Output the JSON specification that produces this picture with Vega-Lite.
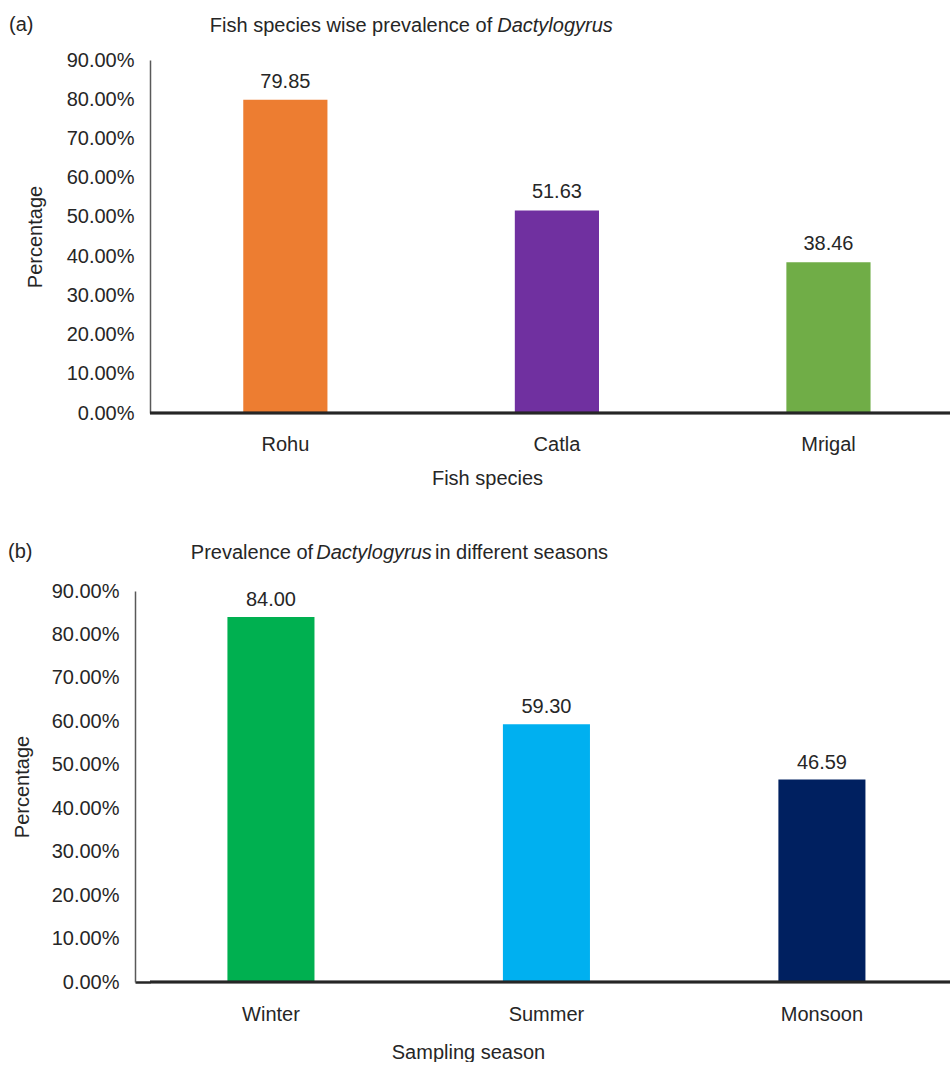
{
  "$schema": "https://vega.github.io/schema/vega-lite/v6.json",
  "padding": {"left": 8, "top": 15, "right": 0, "bottom": 0},
  "background": "white",
  "spacing": 54,
  "resolve": {"scale": {"color": "independent"}},
  "vconcat": [
    {
      "width": 800,
      "height": 353,
      "data": {"values": [
        {"species": "Rohu", "value": 79.85},
        {"species": "Catla", "value": 51.63},
        {"species": "Mrigal", "value": 38.46}
      ]},
      "title": {"text": "(a)", "anchor": "start", "frame": "group", "dx": -141, "dy": 36, "offset": 0, "baseline": "alphabetic", "fontSize": 20, "fontWeight": "normal", "color": "#262626", "font": "Liberation Sans"},
      "layer": [
        {
          "mark": {"type": "bar"},
          "encoding": {
            "x": {"field": "species", "type": "nominal", "sort": null,
              "scale": {"paddingInner": 0.69, "paddingOuter": 0.318, "align": 0.54},
              "axis": {"title": "Fish species", "labelAngle": 0, "labelPadding": 21, "domain": false, "ticks": false,
                "titleX": 337, "titleY": 65, "titleAlign": "center", "titleBaseline": "middle"}},
            "y": {"field": "value", "type": "quantitative",
              "scale": {"domain": [0, 90], "nice": false},
              "axis": {"title": "Percentage", "values": [0, 10, 20, 30, 40, 50, 60, 70, 80, 90],
                "labelExpr": "format(datum.value, '.2f') + '%'", "labelPadding": 16, "ticks": false,
                "domain": true, "domainColor": "#595959", "domainWidth": 1.5,
                "titleX": -115, "titleY": 176.5, "titleAngle": 270, "titleAlign": "center", "titleBaseline": "middle"}},
            "color": {"field": "species", "type": "nominal",
              "scale": {"domain": ["Rohu", "Catla", "Mrigal"], "range": ["#ED7D31", "#7030A0", "#70AD47"]},
              "legend": null}
          }
        },
        {
          "mark": {"type": "rule", "color": "#262626", "strokeWidth": 2.5},
          "encoding": {"y": {"datum": 0, "axis": null}}
        },
        {
          "mark": {"type": "text", "baseline": "alphabetic", "dy": -12, "fontSize": 20, "color": "#262626"},
          "encoding": {
            "x": {"field": "species", "type": "nominal", "sort": null,
              "axis": {"orient": "top", "title": "Fish species wise prevalence of", "labels": false, "ticks": false, "domain": false,
                "titleX": 200.5, "titleY": -29, "titleAlign": "center", "titleBaseline": "alphabetic", "titleAngle": 0}},
            "y": {"field": "value", "type": "quantitative",
              "axis": {"orient": "right", "title": "Dactylogyrus", "titleFontStyle": "italic", "labels": false, "ticks": false, "domain": false,
                "titleX": -395.5, "titleY": -29, "titleAlign": "center", "titleBaseline": "alphabetic", "titleAngle": 0}},
            "text": {"field": "value", "type": "quantitative", "format": ".2f"}
          }
        }
      ],
      "resolve": {"axis": {"x": "independent", "y": "independent"}}
    },
    {
      "width": 800,
      "height": 391,
      "data": {"values": [
        {"season": "Winter", "value": 84.00},
        {"season": "Summer", "value": 59.30},
        {"season": "Monsoon", "value": 46.59}
      ]},
      "title": {"text": "(b)", "anchor": "start", "frame": "group", "dx": -142, "dy": 36, "offset": 0, "baseline": "alphabetic", "fontSize": 20, "fontWeight": "normal", "color": "#262626", "font": "Liberation Sans"},
      "layer": [
        {
          "mark": {"type": "bar"},
          "encoding": {
            "x": {"field": "season", "type": "nominal", "sort": null,
              "scale": {"paddingInner": 0.684, "paddingOuter": 0.294, "align": 0.478},
              "axis": {"title": "Sampling season", "labelAngle": 0, "labelPadding": 22, "domain": false, "ticks": false,
                "titleX": 318, "titleY": 70, "titleAlign": "center", "titleBaseline": "middle"}},
            "y": {"field": "value", "type": "quantitative",
              "scale": {"domain": [0, 90], "nice": false},
              "axis": {"title": "Percentage", "values": [0, 10, 20, 30, 40, 50, 60, 70, 80, 90],
                "labelExpr": "format(datum.value, '.2f') + '%'", "labelPadding": 31, "offset": 15,
                "ticks": true, "tickSize": -15, "tickWidth": 2.5,
                "tickColor": {"condition": {"test": "datum.value === 0", "value": "#262626"}, "value": "transparent"},
                "domain": true, "domainColor": "#595959", "domainWidth": 1.5,
                "titleX": -113, "titleY": 195.5, "titleAngle": 270, "titleAlign": "center", "titleBaseline": "middle"}},
            "color": {"field": "season", "type": "nominal",
              "scale": {"domain": ["Winter", "Summer", "Monsoon"], "range": ["#00B050", "#00B0F0", "#002060"]},
              "legend": null}
          }
        },
        {
          "mark": {"type": "rule", "color": "#262626", "strokeWidth": 2.5},
          "encoding": {"y": {"datum": 0,
            "axis": {"orient": "right", "title": "in different seasons", "labels": false, "ticks": false, "domain": false,
              "titleX": -429, "titleY": -33, "titleAlign": "center", "titleBaseline": "alphabetic", "titleAngle": 0}}}
        },
        {
          "mark": {"type": "text", "baseline": "alphabetic", "dy": -11, "fontSize": 20, "color": "#262626"},
          "encoding": {
            "x": {"field": "season", "type": "nominal", "sort": null,
              "axis": {"orient": "top", "title": "Prevalence of", "labels": false, "ticks": false, "domain": false,
                "titleX": 101.5, "titleY": -33, "titleAlign": "center", "titleBaseline": "alphabetic", "titleAngle": 0}},
            "y": {"field": "value", "type": "quantitative",
              "axis": {"orient": "right", "title": "Dactylogyrus", "titleFontStyle": "italic", "labels": false, "ticks": false, "domain": false,
                "titleX": -576.5, "titleY": -33, "titleAlign": "center", "titleBaseline": "alphabetic", "titleAngle": 0}},
            "text": {"field": "value", "type": "quantitative", "format": ".2f"}
          }
        }
      ],
      "resolve": {"axis": {"x": "independent", "y": "independent"}}
    }
  ],
  "config": {
    "font": "Liberation Sans",
    "view": {"stroke": null},
    "axis": {"grid": false, "labelFont": "Liberation Sans", "titleFont": "Liberation Sans",
      "labelFontSize": 20, "titleFontSize": 20, "labelColor": "#262626", "titleColor": "#262626",
      "titleFontWeight": "normal"},
    "text": {"font": "Liberation Sans"}
  }
}
